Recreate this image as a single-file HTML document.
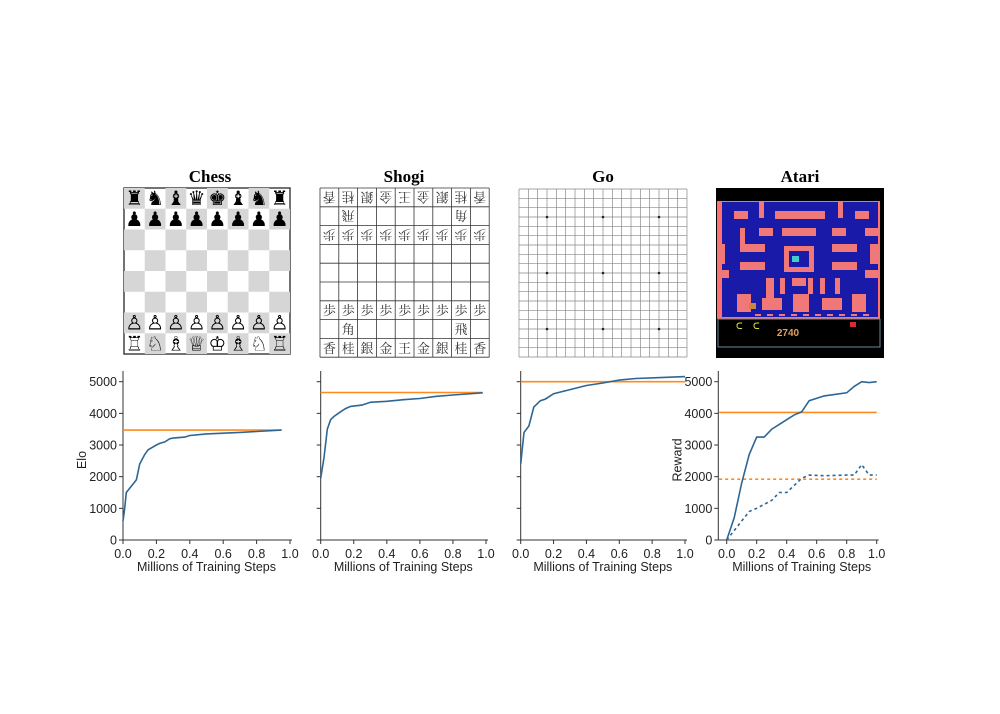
<!DOCTYPE html>
<html><head><meta charset="utf-8"><style>
html,body{margin:0;padding:0;background:#fff;width:1000px;height:714px;overflow:hidden}
</style></head><body>
<svg id="s" width="1000" height="714" xmlns="http://www.w3.org/2000/svg" font-family="Liberation Sans, sans-serif">
<g font-family="Liberation Serif, serif" font-weight="bold" font-size="17" text-anchor="middle">
<text x="210" y="182">Chess</text><text x="404" y="182">Shogi</text><text x="603" y="182">Go</text><text x="800" y="182">Atari</text>
</g>
</svg>
<script>
const s=document.getElementById('s');const NS='http://www.w3.org/2000/svg';
function el(t,a,txt){const e=document.createElementNS(NS,t);for(const k in a)e.setAttribute(k,a[k]);if(txt!=null)e.textContent=txt;s.appendChild(e);return e;}
// Chess
{const x0=124,y0=188,c=20.75;
el('rect',{x:x0,y:y0,width:166,height:166,fill:'#fff',stroke:'#444','stroke-width':1.5});
for(let r=0;r<8;r++)for(let q=0;q<8;q++)if((r+q)%2==0)el('rect',{x:x0+q*c,y:y0+r*c,width:c,height:c,fill:'#d6d6d6'});
const back=['♜','♞','♝','♛','♚','♝','♞','♜'],wb=['♖','♘','♗','♕','♔','♗','♘','♖'];
const F={'font-size':20,'text-anchor':'middle',fill:'#000','font-family':'DejaVu Sans, sans-serif'};
function t(x,y,ch){el('text',Object.assign({x:x,y:y},F),ch);}
for(let q=0;q<8;q++){const x=x0+q*c+c/2;
t(x,y0+c*0.82,back[q]);t(x,y0+c*1.82,'♟');t(x,y0+c*6.82,'♙');t(x,y0+c*7.82,wb[q]);}}
// Shogi
{const x0=320,y0=188,c=18.8;
for(let i=0;i<=9;i++){el('line',{x1:x0+i*c,y1:y0,x2:x0+i*c,y2:y0+9*c,stroke:'#333','stroke-width':0.8});el('line',{x1:x0,y1:y0+i*c,x2:x0+9*c,y2:y0+i*c,stroke:'#333','stroke-width':0.8});}
const back=['香','桂','銀','金','王','金','銀','桂','香'];
function put(r,q,ch,rot){const cx=x0+q*c+c/2,cy=y0+r*c+c/2;el('text',{x:cx,y:cy+5,'font-size':13,'text-anchor':'middle',fill:'#333','font-family':'Noto Serif CJK SC, Noto Sans CJK JP, serif',transform:rot?`rotate(180 ${cx} ${cy})`:''},ch);}
for(let q=0;q<9;q++){put(8,q,back[q],0);put(6,q,'歩',0);put(0,q,back[q],1);put(2,q,'歩',1);}
put(7,1,'角',0);put(7,7,'飛',0);put(1,1,'飛',1);put(1,7,'角',1);}
// Go
{const x0=519,y0=189,c=168/18;
for(let i=0;i<19;i++){el('line',{x1:x0+i*c,y1:y0,x2:x0+i*c,y2:y0+168,stroke:'#888','stroke-width':0.7});el('line',{x1:x0,y1:y0+i*c,x2:x0+168,y2:y0+i*c,stroke:'#888','stroke-width':0.7});}
for(const a of[3,9,15])for(const b of[3,9,15])el('circle',{cx:x0+a*c,cy:y0+b*c,r:1.3,fill:'#222'});}
// Atari
{el('rect',{x:716,y:188,width:168,height:170,fill:'#000'});
el('rect',{x:717,y:201,width:163,height:118,fill:'#ff7070'});
el('rect',{x:722,y:202,width:156,height:115,fill:'#1a1aa8'});
const P='#f07878';const R=[[734,211,14,8],[759,202,5,16],[775,211,50,8],[838,202,5,16],[855,211,14,8],[759,228,14,8],[782,228,34,8],[832,228,14,8],[740,228,5,20],[740,244,25,8],[784,246,30,26],[832,244,25,8],[717,244,8,20],[870,244,10,20],[740,262,25,8],[832,262,25,8],[865,228,15,8],[717,270,12,8],[865,270,15,8],[766,278,8,26],[780,278,5,16],[792,278,14,8],[808,278,5,16],[820,278,5,16],[835,278,5,16],[737,294,14,18],[762,298,20,12],[793,294,16,18],[822,298,20,12],[852,294,14,18]];
for(const r of R)el('rect',{x:r[0],y:r[1],width:r[2],height:r[3],fill:P});
el('rect',{x:789,y:251,width:20,height:16,fill:'#1a1aa8'});
el('rect',{x:792,y:256,width:7,height:6,fill:'#4cc'});el('rect',{x:749,y:303,width:7,height:6,fill:'#c88a3a'});
for(let i=0;i<10;i++)el('rect',{x:755+i*12,y:314,width:6,height:2,fill:P});
el('rect',{x:718,y:319,width:162,height:28,fill:'none',stroke:'#6a8a9a','stroke-width':1});
el('text',{x:788,y:336,'font-size':10,'font-weight':'bold',fill:'#e0a060','text-anchor':'middle'},'2740');
el('text',{x:736,y:329,'font-size':9,fill:'#e0e040'},'ᑕ');el('text',{x:753,y:329,'font-size':9,fill:'#e0e040'},'ᑕ');
el('rect',{x:850,y:322,width:6,height:5,fill:'#d03030'});}
// Plots
const B='#2d6694',O='#ff8a1e',Y0=540,ys=158.3/5000;
function axes(ax0,ax1,sp,yTicks,lab){
el('line',{x1:sp,y1:371,x2:sp,y2:Y0,stroke:'#333','stroke-width':1});
el('line',{x1:sp,y1:Y0,x2:ax1+2,y2:Y0,stroke:'#333','stroke-width':1});
for(let i=0;i<=5;i++){const x=ax0+(ax1-ax0)*i/5;el('line',{x1:x,y1:Y0,x2:x,y2:Y0+4,stroke:'#333'});el('text',{x:x,y:Y0+18,'font-size':12.5,'text-anchor':'middle',fill:'#222'},(i/5).toFixed(1));}
for(let v=0;v<=5000;v+=1000){const y=Y0-v*ys;el('line',{x1:sp-4,y1:y,x2:sp,y2:y,stroke:'#333'});if(yTicks)el('text',{x:sp-6,y:y+4.5,'font-size':12.5,'text-anchor':'end',fill:'#222'},v);}
el('text',{x:(ax0+ax1)/2,y:Y0+31,'font-size':12.5,'text-anchor':'middle',fill:'#222'},'Millions of Training Steps');
if(lab)el('text',{x:0,y:0,'font-size':12.5,'text-anchor':'middle',fill:'#222',transform:`translate(${sp-37},${Y0-80}) rotate(-90)`},lab);}
function line(ax0,ax1,pts,col,dash){const p=pts.map(([x,v])=>(ax0+(ax1-ax0)*x).toFixed(1)+','+(Y0-v*ys).toFixed(1)).join(' ');const a={points:p,fill:'none',stroke:col,'stroke-width':1.6};if(dash)a['stroke-dasharray']=dash;el('polyline',a);}
axes(123,290,123,1,'Elo');
line(123,290,[[0,3470],[0.95,3470]],O);
line(123,290,[[0,600],[0.01,1000],[0.02,1500],[0.05,1700],[0.08,1900],[0.1,2400],[0.13,2700],[0.15,2850],[0.2,3000],[0.22,3050],[0.25,3100],[0.28,3200],[0.3,3220],[0.37,3250],[0.4,3300],[0.5,3350],[0.7,3400],[0.95,3470]],B);
axes(320.7,486,320.7,0);
line(320.7,486,[[0,4660],[0.98,4660]],O);
line(320.7,486,[[0,1950],[0.02,2600],[0.04,3500],[0.06,3800],[0.08,3900],[0.12,4050],[0.15,4150],[0.18,4220],[0.25,4260],[0.3,4350],[0.4,4380],[0.5,4430],[0.6,4470],[0.7,4540],[0.8,4580],[0.98,4650]],B);
axes(520.7,685,520.7,0);
line(520.7,685,[[0,5000],[1,5000]],O);
line(520.7,685,[[0,2400],[0.02,3400],[0.05,3600],[0.08,4200],[0.12,4400],[0.15,4450],[0.2,4620],[0.3,4750],[0.4,4880],[0.5,4960],[0.6,5050],[0.7,5100],[0.85,5130],[1.0,5160]],B);
axes(726.7,876.7,718.3,1,'Reward');
line(726.7,876.7,[[-0.05,4030],[1.0,4030]],O);
line(726.7,876.7,[[-0.05,1920],[1.0,1920]],O,'3,3');
line(726.7,876.7,[[0,0],[0.05,700],[0.1,1800],[0.15,2700],[0.2,3250],[0.25,3250],[0.3,3500],[0.4,3800],[0.45,3950],[0.5,4050],[0.55,4400],[0.65,4550],[0.8,4650],[0.85,4850],[0.9,5000],[0.95,4970],[1.0,5000]],B);
line(726.7,876.7,[[0,0],[0.05,300],[0.1,600],[0.15,900],[0.2,1000],[0.3,1250],[0.35,1500],[0.4,1500],[0.5,1950],[0.55,2050],[0.65,2030],[0.8,2050],[0.85,2050],[0.9,2380],[0.95,2050],[1.0,2050]],B,'3,3');
</script>
</body></html>
